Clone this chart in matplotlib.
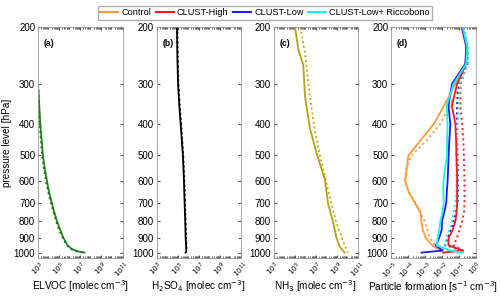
import numpy as np
import matplotlib
matplotlib.use("Agg")
import matplotlib.pyplot as plt
from matplotlib.ticker import FixedLocator, NullFormatter, LogLocator
from matplotlib.lines import Line2D

plt.rcParams['font.family'] = ['Liberation Sans', 'DejaVu Sans']

# ---- data (x values stored as log10) ----
elvoc_p = [313, 350, 400, 450, 500, 550, 600, 650, 700, 750, 800, 850, 900, 950, 975, 990, 1000]
elvoc_solid = [3.05, 3.12, 3.22, 3.35, 3.47, 3.65, 3.85, 4.05, 4.3, 4.55, 4.8, 5.1, 5.4, 5.8, 6.2, 6.7, 7.4]
elvoc_dot = [3.0, 3.08, 3.17, 3.28, 3.4, 3.57, 3.76, 3.97, 4.22, 4.48, 4.72, 5.0, 5.35, 5.75, 6.15, 6.6, 7.3]

h2so4_p = [200, 250, 300, 350, 400, 450, 500, 600, 700, 800, 900, 950, 990, 1000]
h2so4_solid = [4.94, 4.98, 5.04, 5.16, 5.29, 5.4, 5.5, 5.6, 5.66, 5.72, 5.76, 5.8, 5.82, 5.75]
h2so4_dot = [4.97, 5.01, 5.08, 5.2, 5.33, 5.44, 5.54, 5.64, 5.7, 5.76, 5.8, 5.84, 5.86, 5.8]

nh3_p_solid = [200, 235, 262, 328, 412, 492, 593, 705, 804, 900, 960, 1000]
nh3_solid = [5.04, 5.35, 5.82, 5.98, 6.45, 7.08, 7.86, 8.17, 8.64, 8.96, 9.27, 9.74]
nh3_p_dot = [200, 241, 328, 420, 525, 640, 812, 920, 1000]
nh3_dot = [5.57, 5.98, 6.45, 6.92, 7.55, 8.17, 8.96, 9.58, 10.05]

pf_p = [200, 230, 260, 300, 350, 400, 450, 500, 550, 600, 650, 700, 750, 800, 850, 900, 950, 985, 1000]
control_solid = [-0.85, -0.55, -0.6, -1.2, -1.85, -2.48, -3.27, -3.97, -4.07, -4.15, -3.95, -3.6, -3.25, -3.2, -3.12, -2.95, -2.55, -2.1, -1.9]
control_dot = [-0.8, -0.45, -0.5, -0.9, -1.5, -2.1, -2.9, -3.8, -4.1, -4.2, -3.95, -3.55, -3.3, -3.0, -2.85, -2.7, -2.4, -1.8, -1.0]
high_solid = [-0.79, -0.5, -0.55, -1.09, -1.4, -1.19, -1.15, -1.13, -1.1, -1.09, -1.09, -1.09, -1.12, -1.19, -1.35, -1.59, -1.6, -0.75, -1.9]
high_dot = [-0.75, -0.45, -0.45, -0.89, -0.9, -0.79, -0.72, -0.69, -0.67, -0.65, -0.65, -0.65, -0.68, -0.79, -0.95, -1.09, -1.3, -0.75, -0.75]
low_solid = [-0.79, -0.55, -0.6, -1.39, -1.6, -1.49, -1.55, -1.59, -1.62, -1.65, -1.7, -1.73, -1.85, -1.98, -2.0, -2.15, -2.35, -1.95, -3.2]
low_dot = [-0.77, -0.5, -0.5, -0.99, -1.1, -1.09, -1.08, -1.07, -1.05, -1.05, -1.05, -1.05, -1.15, -1.29, -1.45, -1.65, -1.8, -0.8, -0.75]
ricc_solid = [-0.75, -0.5, -0.55, -1.3, -1.7, -1.65, -1.68, -1.69, -1.8, -1.9, -1.9, -1.88, -1.95, -2.08, -2.15, -2.24, -2.3, -1.5, -0.75]
ricc_dot = [-0.72, -0.42, -0.45, -0.93, -1.0, -1.05, -1.1, -1.13, -1.13, -1.13, -1.15, -1.19, -1.3, -1.39, -1.55, -1.73, -1.8, -0.9, -0.7]

series_names = ["Control", "CLUST-High", "CLUST-Low", "CLUST-Low+ Riccobono"]
series_colors = ["#ff9a3c", "#ff1a1a", "#1a1aff", "#19f0f0"]

y_ticks = [200, 300, 400, 500, 600, 700, 800, 900, 1000]
conc_ticks = [1e3, 1e5, 1e7, 1e9, 1e11]
conc_labels = ["$10^{3}$", "$10^{5}$", "$10^{7}$", "$10^{9}$", "$10^{11}$"]
pf_ticks = [1e-5, 1e-4, 1e-3, 1e-2, 1e-1, 1e0]
pf_labels = ["$10^{-5}$", "$10^{-4}$", "$10^{-3}$", "$10^{-2}$", "$10^{-1}$", "$10^{0}$"]

axis_gray = "#555555"

fig = plt.figure(figsize=(5.0, 3.08), dpi=100)
lefts = [0.076, 0.313, 0.547, 0.782]
axes = [fig.add_axes([l, 0.162, 0.169, 0.750]) for l in lefts]


def style(ax, xticks, xlabels, xlim, xlabel, tag):
    ax.set_xscale("log")
    ax.set_yscale("log")
    ax.set_ylim(1040, 200)
    ax.set_xlim(*xlim)
    ax.yaxis.set_major_locator(FixedLocator(y_ticks))
    ax.yaxis.set_minor_locator(FixedLocator([]))
    ax.set_yticklabels([str(t) for t in y_ticks])
    ax.xaxis.set_major_locator(FixedLocator(xticks))
    ax.xaxis.set_minor_locator(LogLocator(base=10, subs=(2, 3, 4, 5, 6, 7, 8, 9), numticks=30))
    ax.xaxis.set_minor_formatter(NullFormatter())
    ax.set_xticklabels(xlabels, rotation=45, ha="center", va="top")
    ax.tick_params(axis="both", which="both", direction="in", top=True, right=True,
                   color=axis_gray, labelsize=7, pad=2)
    ax.tick_params(axis="both", which="major", length=2.5)
    ax.tick_params(axis="both", which="minor", length=1.2)
    ax.tick_params(axis="x", labelsize=5.3, pad=1)
    for s in ax.spines.values():
        s.set_color("#999999")
        s.set_linewidth(0.6)
    ax.set_xlabel(xlabel, fontsize=7.2, labelpad=-1)
    ax.text(0.07, 0.95, tag, transform=ax.transAxes, fontsize=6.3, fontweight="bold",
            va="top", ha="left")


def lg(vals):
    return 10.0 ** np.array(vals)


ax = axes[0]
ax.plot(lg(elvoc_solid), elvoc_p, color="#1f8a1f", lw=1.3)
ax.plot(lg(elvoc_dot), elvoc_p, color="#1a6e1a", lw=1.4, ls=":")
style(ax, conc_ticks, conc_labels, (1e3, 1e11), "ELVOC [molec cm$^{-3}$]", "(a)")
ax.set_ylabel("pressure level [hPa]", fontsize=7.2, labelpad=1)

ax = axes[1]
ax.plot(lg(h2so4_solid), h2so4_p, color="black", lw=1.3)
ax.plot(lg(h2so4_dot), h2so4_p, color="black", lw=1.3, ls=":")
style(ax, conc_ticks, conc_labels, (1e3, 1e11), "H$_2$SO$_4$ [molec cm$^{-3}$]", "(b)")

ax = axes[2]
ax.plot(lg(nh3_solid), nh3_p_solid, color="#b9a20a", lw=1.3)
ax.plot(lg(nh3_dot), nh3_p_dot, color="#b9a20a", lw=1.3, ls=":")
style(ax, conc_ticks, conc_labels, (1e3, 1e11), "NH$_3$ [molec cm$^{-3}$]", "(c)")

ax = axes[3]
solids = [control_solid, high_solid, low_solid, ricc_solid]
dots = [control_dot, high_dot, low_dot, ricc_dot]
for sv, dv, c in zip(solids, dots, series_colors):
    ax.plot(lg(dv), pf_p, color=c, lw=1.4, ls=":")
for sv, dv, c in zip(solids, dots, series_colors):
    ax.plot(lg(sv), pf_p, color=c, lw=1.3)
style(ax, pf_ticks, pf_labels, (1e-5, 1e0), "Particle formation [s$^{-1}$ cm$^{-3}$]", "(d)")

handles = [Line2D([0], [0], color=c, lw=1.5) for c in series_colors]
fig.legend(handles, series_names, loc="center", bbox_to_anchor=(0.53, 0.958), ncol=4,
           fontsize=6.6, frameon=True, fancybox=False, edgecolor="#999999",
           handlelength=2.0, handletextpad=0.3, columnspacing=0.5,
           borderpad=0.25, borderaxespad=0)

fig.savefig("out.png", dpi=100)
